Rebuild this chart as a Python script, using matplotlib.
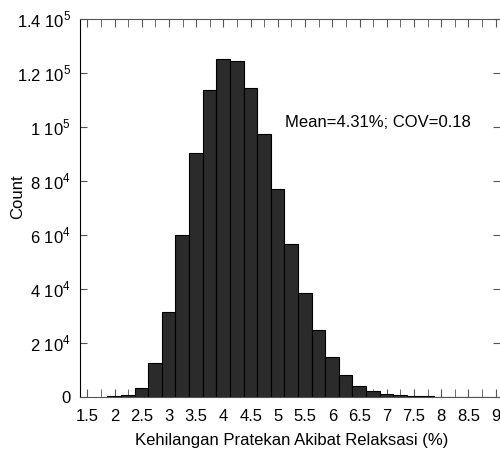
import numpy as np
import matplotlib
matplotlib.use("Agg")
import matplotlib.pyplot as plt
from matplotlib.ticker import MultipleLocator

plt.rcParams['font.family'] = ['Liberation Sans', 'DejaVu Sans']
plt.rcParams['mathtext.fontset'] = 'custom'
plt.rcParams['mathtext.rm'] = 'Liberation Sans'

# histogram bins (left edges, width 0.25) and counts
bin_start = 1.87
bin_width = 0.25
counts = [200, 700, 3200, 12600, 31400, 59800, 90500, 113600, 125000,
          124300, 114500, 97200, 77000, 56600, 38500, 24700, 14600, 8150,
          4100, 2100, 1000, 500, 220, 100, 50, 25, 12, 6]

x_ticks = [1.5, 2, 2.5, 3, 3.5, 4, 4.5, 5, 5.5, 6, 6.5, 7, 7.5, 8, 8.5, 9]
x_labels = ["1.5", "2", "2.5", "3", "3.5", "4", "4.5", "5", "5.5", "6",
            "6.5", "7", "7.5", "8", "8.5", "9"]
y_ticks = [0, 20000, 40000, 60000, 80000, 100000, 120000, 140000]
y_labels = ["0", r"2 10$^{4}$", r"4 10$^{4}$", r"6 10$^{4}$", r"8 10$^{4}$",
            r"1 10$^{5}$", r"1.2 10$^{5}$", r"1.4 10$^{5}$"]

lefts = bin_start + bin_width * np.arange(len(counts))

fig = plt.figure(figsize=(5, 4.51), dpi=100)
ax = fig.add_axes([0.16, 0.1204, 0.84, 0.8375])

ax.bar(lefts, counts, width=bin_width, align='edge',
       facecolor='#2b2b2b', edgecolor='black', linewidth=0.8, zorder=2)

ax.set_xlim(1.366, 9.08)
ax.set_ylim(0, 140000)

ax.set_xticks(x_ticks)
ax.set_xticklabels(x_labels)
ax.xaxis.set_minor_locator(MultipleLocator(0.25))
ax.set_yticks(y_ticks)
ax.set_yticklabels(y_labels)

ax.tick_params(axis='both', which='both', direction='in', labelsize=12,
               color='#555555', top=True, right=True)
ax.tick_params(axis='x', which='both', length=5.5, pad=8.5)
ax.tick_params(axis='y', which='major', length=5, pad=6.5)

ax.spines['right'].set_visible(False)
ax.spines['top'].set_color('#555555')
ax.spines['bottom'].set_color('#555555')
ax.spines['left'].set_color('black')

ax.text(5.13, 101700, "Mean=4.31%; COV=0.18", fontsize=12, va='center', ha='left')

ax.set_xlabel("Kehilangan Pratekan Akibat Relaksasi (%)", fontsize=12)
ax.set_ylabel("Count", fontsize=12)
ax.xaxis.set_label_coords(0.505, -0.095)
ax.yaxis.set_label_coords(-0.13, 0.53)

fig.savefig("out.png", dpi=100)
